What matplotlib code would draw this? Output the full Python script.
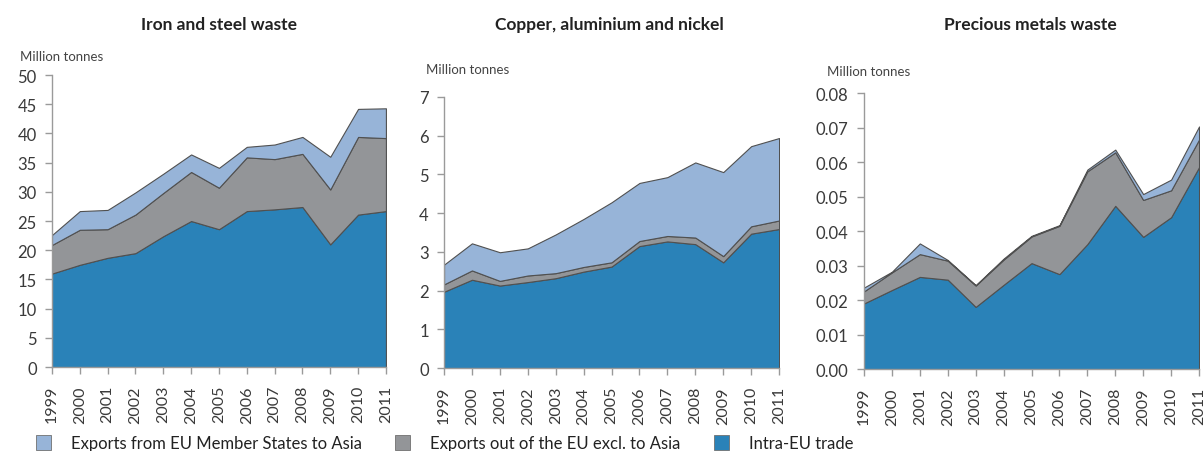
import matplotlib
matplotlib.use("Agg")
import matplotlib.pyplot as plt
from matplotlib.patches import Patch

plt.rcParams["font.family"] = ["Lato", "DejaVu Sans"]

anos = list(range(1999, 2012))

# Iron and steel waste (million tonnes)
ferro_intra = [16.0, 17.5, 18.7, 19.5, 22.4, 25.0, 23.6, 26.7, 27.0, 27.4, 21.0, 26.1, 26.7]
ferro_fora = [4.9, 6.0, 4.9, 6.6, 7.4, 8.4, 7.1, 9.2, 8.6, 9.1, 9.4, 13.3, 12.5]
ferro_asia = [1.7, 3.2, 3.3, 3.8, 3.3, 3.0, 3.4, 1.8, 2.5, 2.9, 5.6, 4.8, 5.1]

# Copper, aluminium and nickel
cobre_intra = [1.97, 2.28, 2.13, 2.22, 2.32, 2.49, 2.62, 3.15, 3.27, 3.20, 2.73, 3.47, 3.59]
cobre_fora = [0.19, 0.24, 0.12, 0.17, 0.13, 0.12, 0.11, 0.13, 0.14, 0.17, 0.16, 0.19, 0.22]
cobre_asia = [0.51, 0.70, 0.74, 0.70, 1.00, 1.24, 1.55, 1.50, 1.52, 1.94, 2.17, 2.07, 2.13]

# Precious metals waste
prec_intra = [0.0190, 0.0229, 0.0267, 0.0259, 0.0180, 0.0244, 0.0307, 0.0275, 0.0362, 0.0473, 0.0383, 0.0440, 0.0585]
prec_fora = [0.0035, 0.0051, 0.0066, 0.0055, 0.0062, 0.0073, 0.0077, 0.0140, 0.0211, 0.0155, 0.0107, 0.0078, 0.0080]
prec_asia = [0.0011, 0.0002, 0.0031, 0.0002, 0.0001, 0.0003, 0.0002, 0.0002, 0.0005, 0.0008, 0.0017, 0.0031, 0.0038]

titulos = ["Iron and steel waste", "Copper, aluminium and nickel", "Precious metals waste"]
legendas = ["Exports from EU Member States to Asia", "Exports out of the EU excl. to Asia", "Intra-EU trade"]

cor_intra = "#2a82b8"
cor_fora = "#939598"
cor_asia = "#97b4d8"
cor_texto = "#3a3a3a"

fig = plt.figure(figsize=(12.03, 4.52), dpi=100)

# posicoes dos paineis em fracao da figura
caixas = [
    [0.0432, 0.1858, 0.2776, 0.646],
    [0.3691, 0.1836, 0.2785, 0.5996],
    [0.7182, 0.1814, 0.2785, 0.6106],
]
dados = [
    (ferro_intra, ferro_fora, ferro_asia, 50, 5, "%d"),
    (cobre_intra, cobre_fora, cobre_asia, 7, 1, "%d"),
    (prec_intra, prec_fora, prec_asia, 0.08, 0.01, "%.2f"),
]
pos_unidade = [(20, 57), (426, 70), (827, 72)]
pos_titulo = [219, 609, 1030]

for i in range(3):
    intra, fora, asia, ymax, passo, fmt = dados[i]
    ax = fig.add_axes(caixas[i])
    ax.stackplot(anos, intra, fora, asia, colors=[cor_intra, cor_fora, cor_asia],
                 edgecolor="#505050", linewidth=0.8)
    ax.set_xlim(1999, 2011)
    ax.set_ylim(0, ymax)
    n = int(round(ymax / passo))
    yt = [k * passo for k in range(n + 1)]
    ax.set_yticks(yt)
    ax.set_yticklabels([fmt % v for v in yt])
    ax.set_xticks(anos)
    ax.set_xticklabels([str(a) for a in anos], rotation=90)
    for s in ["top", "right"]:
        ax.spines[s].set_visible(False)
    for s in ["left", "bottom"]:
        ax.spines[s].set_color("#9a9a9a")
        ax.spines[s].set_linewidth(1.0)
    ax.tick_params(colors="#9a9a9a", labelcolor=cor_texto, labelsize=12, length=5, width=1)
    ax.tick_params(axis="y", pad=6)
    ax.tick_params(axis="x", pad=8, labelsize=11.5)

    ux, uy = pos_unidade[i]
    fig.text(ux / 1203, 1 - uy / 452, "Million tonnes", fontsize=9.5, color="#444444", va="center")
    fig.text(pos_titulo[i] / 1203, 1 - 25 / 452, titulos[i], fontsize=12.5, fontweight="bold",
             color="#222222", ha="center", va="center")

handles = [Patch(facecolor=c, edgecolor="#707070", linewidth=0.6) for c in [cor_asia, cor_fora, cor_intra]]
fig.legend(handles, legendas, loc="center left", bbox_to_anchor=(0.030, 1 - 444 / 452), ncol=3,
           frameon=False, fontsize=12, handlelength=0.9, handleheight=1.0, handletextpad=1.2,
           columnspacing=2.0, labelcolor="#222222", borderaxespad=0, borderpad=0)

fig.savefig("out.png", dpi=100)
